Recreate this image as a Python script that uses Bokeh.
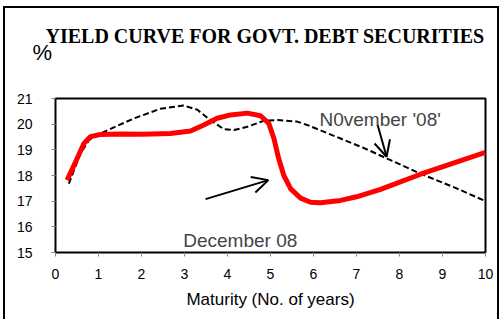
from bokeh.plotting import figure
from bokeh.models import Label, Arrow, OpenHead, Range1d, FixedTicker, Title
from bokeh.embed import file_html
from bokeh.resources import INLINE

# December 08 (red)
dec_x = [0.27, 0.5, 0.66, 0.81, 1.05, 1.5, 2.0, 2.67, 3.14, 3.45, 3.76, 4.07, 4.46, 4.77,
         4.96, 5.08, 5.19, 5.31, 5.47, 5.70, 5.93, 6.16, 6.63, 7.0, 7.56, 8.49, 9.2, 10.0]
dec_y = [17.82, 18.65, 19.25, 19.51, 19.6, 19.62, 19.61, 19.64, 19.73, 19.97, 20.23, 20.36, 20.43, 20.33,
         20.03, 19.44, 18.66, 18.0, 17.48, 17.12, 16.96, 16.94, 17.03, 17.17, 17.46, 18.05, 18.45, 18.9]

# November '08' (dashed)
nov_x = [0.31, 0.58, 0.78, 1.05, 1.43, 1.82, 2.44, 2.98, 3.30, 3.60, 3.91, 4.15, 4.46, 4.84,
         5.16, 5.62, 5.85, 6.63, 7.2, 7.71, 8.49, 9.3, 10.0]
nov_y = [17.68, 18.86, 19.38, 19.64, 19.93, 20.22, 20.6, 20.73, 20.56, 20.16, 19.81, 19.77, 19.90, 20.13,
         20.16, 20.1, 19.97, 19.44, 19.05, 18.66, 18.07, 17.52, 17.0]

x_ticks = list(range(0, 11))
y_ticks = list(range(15, 22))

FONT = "Liberation Sans"

p = figure(width=492, height=311, output_backend="svg", toolbar_location=None,
           x_range=Range1d(0, 10), y_range=Range1d(15, 21),
           min_border_left=50, min_border_right=16, min_border_top=89, min_border_bottom=69)
p.styles = {"margin-left": "3px", "margin-top": "6px",
            "border-left": "2px solid black", "border-top": "2px solid black",
            "border-right": "2px solid black", "box-sizing": "content-box"}

p.grid.visible = False
p.outline_line_color = "black"
p.outline_line_width = 2
p.background_fill_color = "white"
p.border_fill_color = "white"

for ax in (p.xaxis[0], p.yaxis[0]):
    ax.axis_line_color = None
    ax.major_tick_line_color = "#888888"
    ax.major_tick_in = 0
    ax.major_tick_out = 4
    ax.minor_tick_line_color = None
    ax.major_label_text_font = FONT
    ax.major_label_text_font_size = "14px"
    ax.major_label_text_color = "black"

p.xaxis.ticker = FixedTicker(ticks=x_ticks)
p.yaxis.ticker = FixedTicker(ticks=y_ticks)
p.xaxis.major_label_standoff = 12
p.yaxis.major_label_standoff = 19
p.xaxis.axis_label = "Maturity (No. of years)"
p.xaxis.axis_label_text_font = FONT
p.xaxis.axis_label_text_font_size = "17px"
p.xaxis.axis_label_text_font_style = "normal"
p.xaxis.axis_label_text_color = "black"
p.xaxis.axis_label_standoff = 8

# titles (added nearest-to-frame first)
p.add_layout(Title(text="%", align="left", offset=-23, standoff=63, vertical_align="top",
                   text_color="black", text_font=FONT, text_font_size="22px",
                   text_font_style="normal"), "above")
p.add_layout(Title(text="YIELD CURVE FOR GOVT. DEBT SECURITIES", align="left", offset=-10,
                   standoff=-76, vertical_align="bottom", text_color="black",
                   text_font="Liberation Serif", text_font_style="bold",
                   text_font_size="20px"), "above")

p.line(nov_x, nov_y, line_color="black", line_width=2, line_dash="6 3")
p.line(dec_x, dec_y, line_color="red", line_width=5)

p.add_layout(Arrow(end=OpenHead(size=16, line_width=2, line_color="black"),
                   x_start=3.49, y_start=17.08, x_end=4.95, y_end=17.82,
                   line_width=2, line_color="black"))
p.add_layout(Arrow(end=OpenHead(size=16, line_width=2, line_color="black"),
                   x_start=7.49, y_start=19.98, x_end=7.70, y_end=18.73,
                   line_width=2, line_color="black"))

p.add_layout(Label(x=6.14, y=20.19, text="N0vember '08'", text_font=FONT,
                   text_font_size="19px", text_baseline="middle", text_align="left"))
p.add_layout(Label(x=2.97, y=15.47, text="December 08", text_font=FONT,
                   text_font_size="19px", text_baseline="middle", text_align="left"))

open("out.html", "w").write(file_html(p, INLINE))
